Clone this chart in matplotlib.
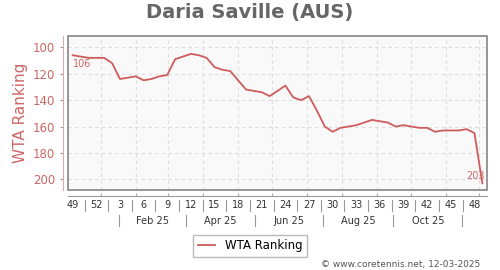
import matplotlib
matplotlib.use("Agg")
import matplotlib.pyplot as plt
from matplotlib.patches import Rectangle

# weekly WTA ranking, week 49 (2024) .. week 48 (2025) and one more week
ranking = [106, 107, 108, 108, 108, 112, 124, 123, 122, 125,
           124, 122, 121, 109, 107, 105, 106, 108, 115, 117,
           118, 125, 132, 133, 134, 137, 133, 129, 138, 140,
           137, 148, 160, 164, 161, 160, 159, 157, 155, 156,
           157, 160, 159, 160, 161, 161, 164, 163, 163, 163,
           162, 165, 203]
weeks = list(range(len(ranking)))

week_labels = ["49", "52", "3", "6", "9", "12", "15", "18", "21", "24",
               "27", "30", "33", "36", "39", "42", "45", "48"]
week_label_pos = list(range(0, 52, 3))

month_labels = ["Feb 25", "Apr 25", "Jun 25", "Aug 25", "Oct 25"]
month_sep_pos = [5.92, 14.35, 23.14, 31.81, 40.70, 49.46]
grid_pos = [3.63, 8.07, 12.06, 16.58, 20.95, 25.34, 29.71, 34.15,
            38.59, 42.91, 47.35, 51.62]
yticks = [100, 120, 140, 160, 180, 200]

line_col = "#cd5c5c"
text_col = "#cc6666"

fig = plt.figure(figsize=(5, 2.7), dpi=100)
ax = fig.add_axes([0.1366, 0.2963, 0.838, 0.5715])
ax.set_facecolor("#f9f9f9")

ax.plot(weeks, ranking, color=line_col, lw=1.3, label="WTA Ranking", zorder=3)

ax.set_xlim(-0.56, 52.63)
ax.set_ylim(208.1, 91.2)

# grid
ax.set_yticks(yticks)
ax.set_xticks(grid_pos)
ax.set_xticklabels([])
ax.grid(True, color="#dddddd", linestyle=(0, (3, 3)), lw=0.8)

# frame + offset axis lines
ax.add_patch(Rectangle((0, 0), 1, 1, transform=ax.transAxes, fill=False,
                       ec="#7a7a7a", lw=1.1, clip_on=False, zorder=4))
for s in ["top", "right"]:
    ax.spines[s].set_visible(False)
ax.spines["left"].set_position(("outward", 4))
ax.spines["left"].set_color("#e0a8a8")
ax.spines["bottom"].set_position(("outward", 4))
ax.spines["bottom"].set_color("#999999")
ax.tick_params(axis="y", colors="#999999", labelcolor=text_col, length=2.5,
               labelsize=8.5, pad=3)
ax.tick_params(axis="x", colors="#aaaaaa", direction="in", length=2.5)

ax.set_ylabel("WTA Ranking", color=text_col, fontsize=11)
ax.yaxis.set_label_coords(-0.095, 0.5)

# week labels with separators
tr = ax.get_xaxis_transform()
for p, lab in zip(week_label_pos, week_labels):
    ax.text(p, -0.094, lab, transform=tr, ha="center", va="center",
            fontsize=7, color="#333333")
for p in week_label_pos[:-1]:
    ax.plot([p + 1.5, p + 1.5], [-0.065, -0.133], transform=tr,
            color="#999999", lw=0.8, clip_on=False)

# month row
for p in month_sep_pos:
    ax.plot([p, p], [-0.162, -0.233], transform=tr, color="#999999",
            lw=0.8, clip_on=False)
for a, b, lab in zip(month_sep_pos[:-1], month_sep_pos[1:], month_labels):
    ax.text((a + b) / 2, -0.198, lab, transform=tr, ha="center", va="center",
            fontsize=7, color="#333333")

# first / last value
ax.annotate(str(ranking[0]), (weeks[0], ranking[0]), xytext=(0.5, -6.3),
            textcoords="offset points", ha="left", va="center",
            fontsize=7, color=text_col)
ax.annotate(str(ranking[-1]), (weeks[-1], ranking[-1]), xytext=(1.5, 5.4),
            textcoords="offset points", ha="right", va="center",
            fontsize=7, color=text_col)

fig.text(0.5, 0.952, "Daria Saville (AUS)", ha="center", va="center",
         fontsize=14, fontweight="bold", color="#666666")

fig.legend(loc="center", bbox_to_anchor=(0.5, 0.0896), fontsize=8.5,
           frameon=True, fancybox=False, edgecolor="#aaaaaa",
           handlelength=1.5, borderpad=0.4)

fig.text(0.96, 0.022, "\u00a9 www.coretennis.net, 12-03-2025", ha="right",
         va="center", fontsize=6.5, color="#555555")

fig.savefig("out.png", dpi=100)
